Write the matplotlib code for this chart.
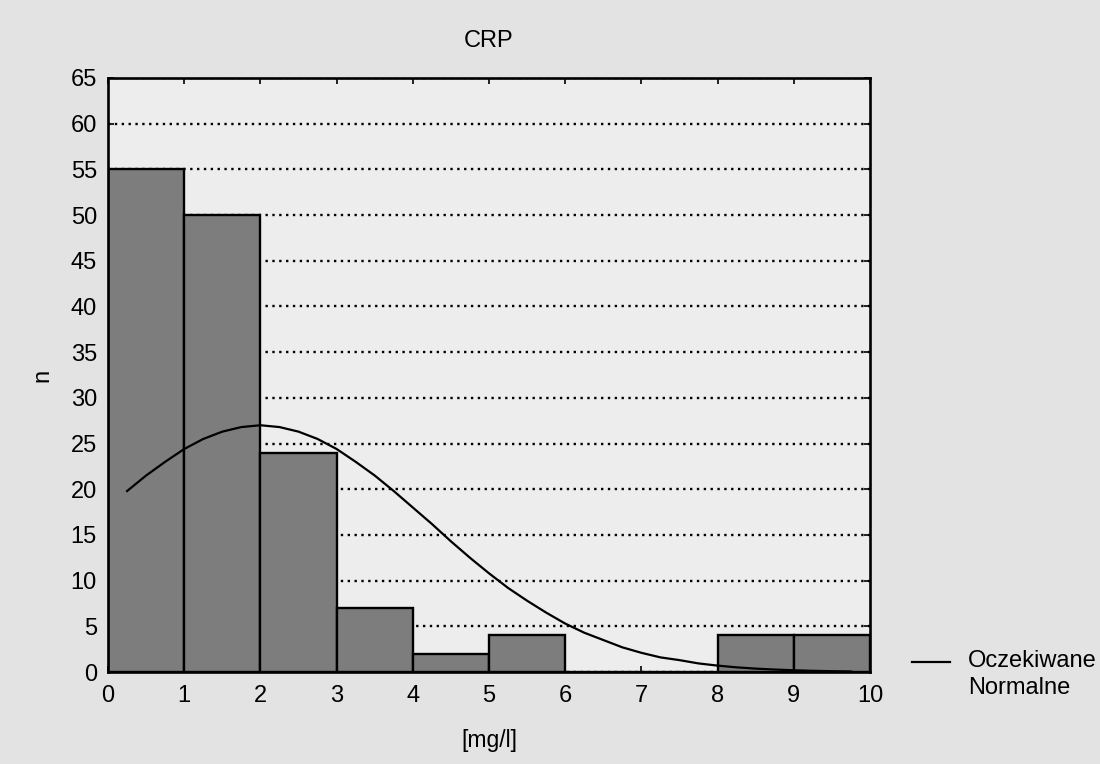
import matplotlib
matplotlib.use("Agg")
import matplotlib.pyplot as plt
from matplotlib.lines import Line2D
import numpy as np

# Data
bin_edges = [0, 1, 2, 3, 4, 5, 6, 7, 8, 9, 10]
counts = [55, 50, 24, 7, 2, 4, 0, 0, 4, 4]
curve_x = [0.25, 0.5, 0.75, 1.0, 1.25, 1.5, 1.75, 2.0, 2.25, 2.5, 2.75, 3.0,
           3.25, 3.5, 3.75, 4.0, 4.25, 4.5, 4.75, 5.0, 5.25, 5.5, 5.75, 6.0,
           6.25, 6.5, 6.75, 7.0, 7.25, 7.5, 7.75, 8.0, 8.25, 8.5, 8.75, 9.0,
           9.25, 9.5, 9.75]
curve_y = [19.8, 21.5, 23.0, 24.4, 25.5, 26.3, 26.8, 27.0, 26.8, 26.3, 25.5, 24.4,
           23.0, 21.5, 19.8, 18.0, 16.2, 14.3, 12.5, 10.8, 9.2, 7.8, 6.5, 5.3,
           4.3, 3.5, 2.7, 2.1, 1.6, 1.3, 0.94, 0.70, 0.51, 0.37, 0.27, 0.19,
           0.13, 0.09, 0.06]
yticks = list(range(0, 70, 5))
xticks = list(range(0, 11))
legend_label = 'Oczekiwane\nNormalne'

plt.rcParams['font.family'] = ['Liberation Sans', 'DejaVu Sans']

fig = plt.figure(figsize=(11, 7.64), dpi=100)
fig.patch.set_facecolor('#e3e3e3')
ax = fig.add_axes([0.0982, 0.1204, 0.6927, 0.7776])
ax.set_facecolor('#ededed')

lefts = bin_edges[:-1]
widths = np.diff(bin_edges)
ax.bar(lefts, counts, width=widths, align='edge', color='#7d7d7d',
       edgecolor='black', linewidth=1.7, zorder=2)

line, = ax.plot(curve_x, curve_y, color='black', linewidth=1.6, zorder=3)

ax.set_xlim(0, 10)
ax.set_ylim(0, 65)
ax.set_xticks(xticks)
ax.set_yticks(yticks)
ax.yaxis.grid(True, linestyle=(0, (1, 1.9)), color='black', linewidth=1.7, zorder=0)
ax.set_axisbelow(True)
ax.tick_params(direction='in', length=4, width=1.2, labelsize=17,
               top=True, right=True)
ax.tick_params(axis='x', pad=9)
ax.tick_params(axis='y', pad=8)
for s in ax.spines.values():
    s.set_linewidth(1.9)

ax.set_title('CRP', fontsize=17, pad=22)
ax.set_xlabel('[mg/l]', fontsize=16.5, labelpad=16)
ax.set_ylabel('n', fontsize=17, labelpad=12)

# legend (outside, aligned with first text line as in the original)
fig.add_artist(Line2D([912 / 1100, 950 / 1100], [1 - 662 / 764, 1 - 662 / 764],
                      color=line.get_color(), linewidth=1.6))
fig.text(968 / 1100, 1 - 650 / 764, legend_label, fontsize=17,
         ha='left', va='top', linespacing=1.3,
         transform=fig.transFigure)

fig.savefig('out.png', dpi=100, facecolor=fig.get_facecolor())
